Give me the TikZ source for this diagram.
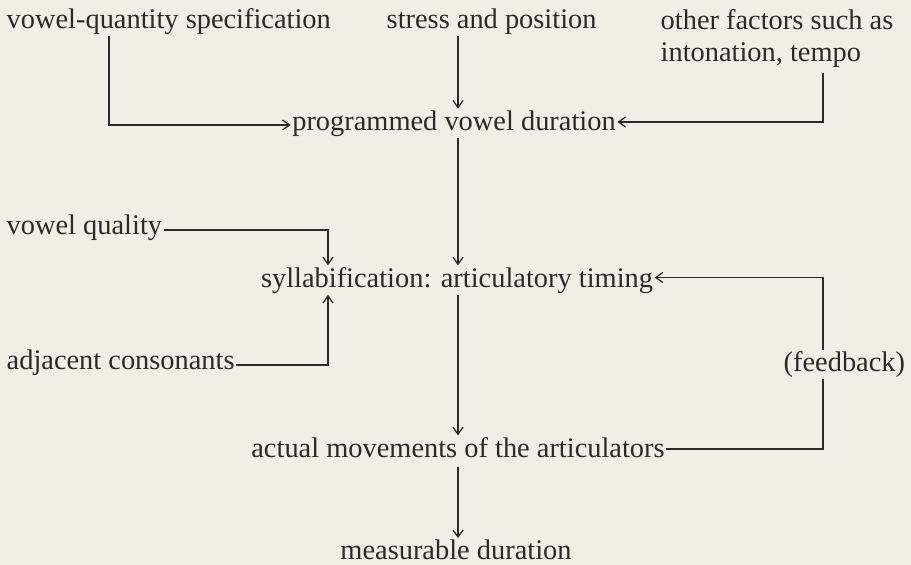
\documentclass[tikz,border=0pt]{standalone}
\usepackage{fontspec}
\setmainfont{Liberation Serif}
\usetikzlibrary{arrows.meta}
\definecolor{paper}{RGB}{240,239,230}
\definecolor{ink}{RGB}{42,42,40}
\begin{document}
\begin{tikzpicture}[x=1pt,y=-1pt,
  lbl/.style={inner sep=1.5pt, text=ink, font=\fontsize{28.4}{32}\selectfont},
  flow/.style={draw=ink, line width=1.3pt, -{Straight Barb[length=7pt,width=10pt,line width=1.3pt]}}]
\fill[paper] (0,0) rectangle (911,565);
\useasboundingbox (0,0) rectangle (911,565);

% x positions of the vertical runs
\coordinate (qx) at (109,0);
\coordinate (cx) at (458,0);
\coordinate (sx) at (328,0);
\coordinate (fx) at (823,0);

% inputs (placed by their baselines)
\node[lbl, anchor=base west] (vq) at (5,28) {vowel-quantity specification};
\node[lbl, anchor=base west] (sp) at (385,28) {stress and position};
\node[lbl, anchor=north west, align=left] (of) at (659,8) {other factors such as\\intonation, tempo};
\node[lbl, anchor=base west] (vql) at (5,234.5) {vowel quality};
\node[lbl, anchor=base west] (adj) at (5,369.5) {adjacent consonants};

% main column
\node[lbl, anchor=base] (pvd) at (454,130) {programmed vowel duration};
\node[lbl, anchor=base] (syl) at (457,287) {syllabification: articulatory timing};
\node[lbl, anchor=base] (act) at (458,457) {actual movements of the articulators};
\node[lbl, anchor=base] (mea) at (456,559.5) {measurable duration};

% connectors
\draw[flow] (vq.south -| qx) |- ([yshift=5pt]pvd.base west);
\draw[flow] (sp.south -| cx) -- (pvd.north -| cx);
\draw[flow, shorten <=4pt] (of.south -| fx) |- ([yshift=8pt]pvd.base east);
\draw[flow] (pvd.south -| cx) -- (syl.north -| cx);
\draw[flow] ([yshift=4.5pt]vql.base east) -| (syl.north -| sx);
\draw[flow] ([yshift=4.5pt]adj.base east) -| (syl.south -| sx);
\draw[flow] (syl.south -| cx) -- (act.north -| cx);
\draw[flow, shorten <=8pt] (act.south -| cx) -- (mea.north -| cx);
\draw[flow] ([yshift=8pt]act.base east) -- ([yshift=8pt]act.base east -| fx)
  |- ([yshift=9.5pt]syl.base east);

% label set over the feedback line
\node[lbl, anchor=base west, fill=paper] (fb) at (782,371) {(feedback)};
\end{tikzpicture}
\end{document}
